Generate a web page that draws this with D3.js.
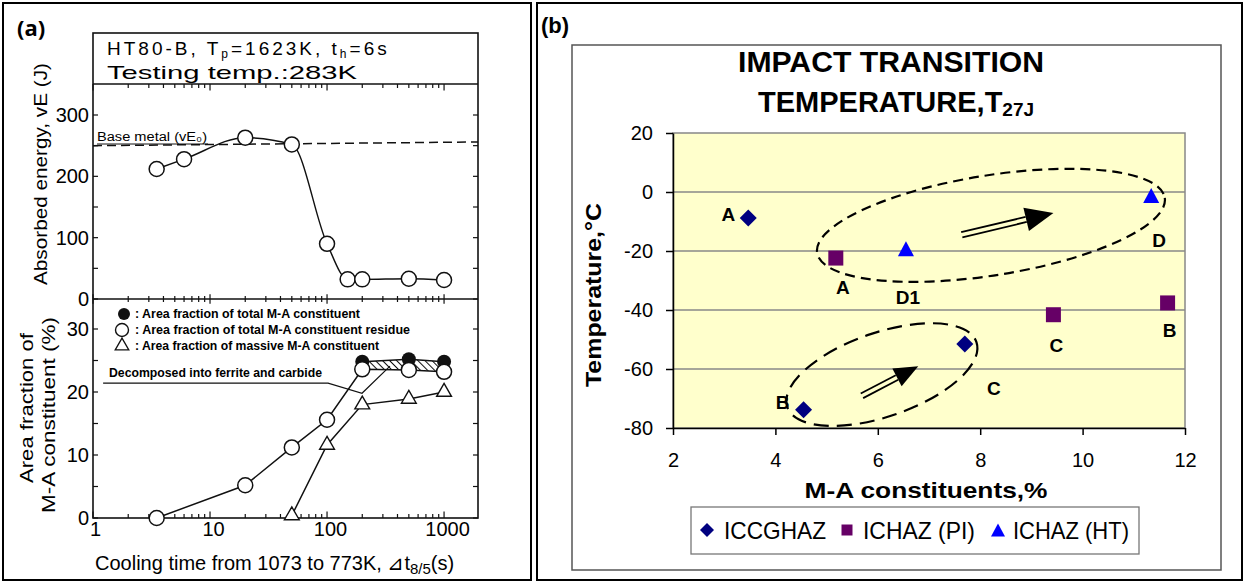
<!DOCTYPE html>
<html><head><meta charset="utf-8">
<script src="https://cdn.jsdelivr.net/npm/d3@7"></script>
<style>body{margin:0;background:#fff;} svg{display:block;}</style>
</head><body><svg id="c" width="1245" height="583"></svg>
<script>
// ---------- Panel (a) data ----------
const coolTimes      = [3.5, 6, 20, 50, 100, 150, 200, 500, 1000];
const absorbedEnergy = [212, 228, 263, 252, 90, 32, 32, 33, 31];
const baseMetalTimes = [1, 1950];
const baseMetalEnergy= [250, 256];
const residueTimes    = [3.5, 20, 50, 100, 200, 500, 1000];
const residueFraction = [0, 5.2, 11.2, 15.6, 23.6, 23.5, 23.2];
const totalTimes      = [200, 500, 1000];
const totalFraction   = [24.8, 25.2, 24.8];
const massiveTimes    = [50, 100, 200, 500, 1000];
const massiveFraction = [0.4, 11.6, 18, 18.9, 20];
const pointerTimes    = [1.22, 102, 199, 345];
const pointerFraction = [21.4, 21.4, 19.8, 24.1];
const energyLabels    = [0, 100, 200, 300];
const energyMinor     = [0, 50, 100, 150, 200, 250, 300];
const fractionLabels  = [0, 10, 20, 30];
const fractionMinor   = [0, 5, 10, 15, 20, 25, 30];
const timeLabels      = [1, 10, 100, 1000];

// ---------- Panel (b) data ----------
const seriesNames   = ["ICCGHAZ", "ICHAZ (PI)", "ICHAZ (HT)"];
const iccghazMA     = [3.47, 4.55, 7.70];
const iccghazT      = [-8.8, -73.8, -51.5];
const iccghazLabels = ["A", "B", "C"];
const pichazMA      = [5.18, 9.43, 11.66];
const pichazT       = [-22.4, -41.6, -37.6];
const pichazLabels  = ["A", "C", "B"];
const htchazMA      = [6.55, 11.34];
const htchazT       = [-19.2, -1.2];
const htchazLabels  = ["D1", "D"];
const maTicks       = [2, 4, 6, 8, 10, 12];
const tempTicks     = [20, 0, -20, -40, -60, -80];
const ellipseMA     = [8.21, 6.08];
const ellipseT      = [-11.3, -61.9];
const arrowFromMA   = [7.64, 5.69];
const arrowFromT    = [-14.5, -69.1];
const arrowToMA     = [9.43, 6.79];
const arrowToT      = [-7.1, -59.1];

const FONT = '"Liberation Sans", Arial, Helvetica, sans-serif';
const svg = d3.select("#c");

function txt(g, s, x, y, opt) {
  opt = opt || {};
  const t = g.append("text").attr("x", x).attr("y", y)
    .attr("font-family", opt.family || FONT)
    .attr("font-size", opt.size || 16)
    .attr("font-weight", opt.weight || "normal")
    .attr("fill", opt.fill || "#000")
    .attr("text-anchor", opt.anchor || "start");
  if (opt.len) t.attr("textLength", opt.len).attr("lengthAdjust", "spacingAndGlyphs");
  if (opt.ls) t.attr("letter-spacing", opt.ls);
  if (opt.rotate) t.attr("transform", `rotate(${opt.rotate},${x},${y})`);
  if (s !== null) t.text(s);
  return t;
}

// ---------- panel frames ----------
svg.append("rect").attr("x", 3).attr("y", 3).attr("width", 528).attr("height", 577)
  .attr("fill", "none").attr("stroke", "#000").attr("stroke-width", 2);
svg.append("rect").attr("x", 537).attr("y", 3).attr("width", 705).attr("height", 577)
  .attr("fill", "none").attr("stroke", "#000").attr("stroke-width", 2);

// =================== PANEL (a) ===================
const gA = svg.append("g");
const xA = d3.scaleLog().domain([1, 1950]).range([93, 478]);
const yE = d3.scaleLinear().domain([0, 300]).range([299, 115]);
const yF = d3.scaleLinear().domain([0, 30]).range([518, 329]);
const L = 93, R = 478, TOPH = 33, DIV = 84, MID = 299, BOT = 518;

txt(gA, "(a)", 17, 36, {size: 22, weight: "bold", family: '"Open Sans", "Liberation Sans", sans-serif'});

// frame
gA.append("rect").attr("x", L).attr("y", TOPH).attr("width", R - L).attr("height", BOT - TOPH)
  .attr("fill", "none").attr("stroke", "#111").attr("stroke-width", 1.6);
[DIV, MID].forEach(y => gA.append("line").attr("x1", L).attr("x2", R).attr("y1", y).attr("y2", y)
  .attr("stroke", "#111").attr("stroke-width", 1.6));

// header texts
const h1 = txt(gA, null, 107, 55, {size: 19, ls: 3});
h1.append("tspan").text("HT80-B, T");
h1.append("tspan").attr("font-size", 12).attr("dy", 3).text("p");
h1.append("tspan").attr("dy", -3).text("=1623K, t");
h1.append("tspan").attr("font-size", 12).attr("dy", 3).text("h");
h1.append("tspan").attr("dy", -3).text("=6s");
txt(gA, "Testing temp.:283K", 107, 79, {size: 18.5, len: 250});

// log x ticks
const allT = xA.ticks().filter(v => v <= 1950);
const isMajor = v => timeLabels.includes(v);
function xTickLines(y, up, down) {
  gA.append("g").selectAll("line").data(allT).join("line")
    .attr("x1", d => xA(d)).attr("x2", d => xA(d))
    .attr("y1", d => y - (isMajor(d) ? up * 1.6 : up))
    .attr("y2", d => y + (isMajor(d) ? down * 1.6 : down))
    .attr("stroke", "#111").attr("stroke-width", 1.2);
}
xTickLines(DIV, 0, 4);
xTickLines(MID, 3, 3);
xTickLines(BOT, 4, 0);

// x tick labels via axis
const xAxisA = gA.append("g").attr("transform", `translate(0,${BOT})`)
  .call(d3.axisBottom(xA).tickValues(timeLabels).tickSize(0).tickPadding(4).tickFormat(d3.format("d")));
xAxisA.select(".domain").remove();
xAxisA.selectAll("text").attr("font-family", FONT).attr("font-size", 20).attr("fill", "#000")
  .attr("dx", d => d === 1 ? 2 : 3);

// y ticks inward on both sides
function yTicks(scale, vals, x, dir) {
  gA.append("g").selectAll("line").data(vals).join("line")
    .attr("x1", x).attr("x2", x + dir * 5)
    .attr("y1", d => scale(d)).attr("y2", d => scale(d))
    .attr("stroke", "#111").attr("stroke-width", 1.2);
}
yTicks(yE, energyMinor, L, 1); yTicks(yE, energyMinor, R, -1);
yTicks(yF, fractionMinor, L, 1); yTicks(yF, fractionMinor, R, -1);

const yEl = gA.append("g").attr("transform", `translate(${L},0)`)
  .call(d3.axisLeft(yE).tickValues(energyLabels).tickSize(0).tickPadding(4));
yEl.select(".domain").remove();
yEl.selectAll("text").attr("font-family", FONT).attr("font-size", 20).attr("fill", "#000");
const yFl = gA.append("g").attr("transform", `translate(${L},0)`)
  .call(d3.axisLeft(yF).tickValues(fractionLabels).tickSize(0).tickPadding(4));
yFl.select(".domain").remove();
yFl.selectAll("text").attr("font-family", FONT).attr("font-size", 20).attr("fill", "#000");

// axis titles
txt(gA, "Absorbed energy, vE (J)", 47, 174, {size: 19, anchor: "middle", rotate: -90, len: 222});
txt(gA, "Area fraction of", 33, 408, {size: 19, anchor: "middle", rotate: -90, len: 150});
txt(gA, "M-A constituent (%)", 55, 415, {size: 19, anchor: "middle", rotate: -90, len: 196});
const xt = txt(gA, null, 95, 570, {size: 20});
xt.append("tspan").text("Cooling time from 1073 to 773K, \u22BFt");
xt.append("tspan").attr("font-size", 15).attr("dy", 4).text("8/5");
xt.append("tspan").attr("dy", -4).text("(s)");

// base metal dashed line
gA.append("path")
  .attr("d", d3.line().x((d, i) => xA(baseMetalTimes[i])).y(d => yE(d))(baseMetalEnergy))
  .attr("fill", "none").attr("stroke", "#111").attr("stroke-width", 1.5).attr("stroke-dasharray", "9,5");
txt(gA, "Base metal (vE\u2080)", 97, 141, {size: 12.5, len: 110});
gA.append("line").attr("x1", 97).attr("x2", 208).attr("y1", 144).attr("y2", 144).attr("stroke", "#111").attr("stroke-width", 1);

// absorbed energy curve
const ptsE = coolTimes.map((t, i) => [xA(t), yE(absorbedEnergy[i])]);
gA.append("path").attr("d", d3.line().curve(d3.curveMonotoneX)(ptsE))
  .attr("fill", "none").attr("stroke", "#111").attr("stroke-width", 1.4);
gA.append("g").selectAll("circle").data(ptsE).join("circle")
  .attr("cx", d => d[0]).attr("cy", d => d[1]).attr("r", 7.5)
  .attr("fill", "#fff").attr("stroke", "#111").attr("stroke-width", 1.5);

// hatched band between total and residue lines
const defs = svg.append("defs");
const pat = defs.append("pattern").attr("id", "hatch").attr("patternUnits", "userSpaceOnUse")
  .attr("width", 5).attr("height", 5).attr("patternTransform", "rotate(-45)");
pat.append("rect").attr("width", 5).attr("height", 5).attr("fill", "#fff");
pat.append("line").attr("x1", 0).attr("y1", 0).attr("x2", 0).attr("y2", 5).attr("stroke", "#111").attr("stroke-width", 2);
const bandTop = totalTimes.map((t, i) => [xA(t), yF(totalFraction[i]), yF(residueFraction[residueTimes.indexOf(t)])]);
gA.append("path").attr("d", d3.area().x(d => d[0]).y0(d => d[2]).y1(d => d[1])(bandTop))
  .attr("fill", "url(#hatch)").attr("stroke", "none");

// lines bottom
const ptsR = residueTimes.map((t, i) => [xA(t), yF(residueFraction[i])]);
const ptsT = totalTimes.map((t, i) => [xA(t), yF(totalFraction[i])]);
const ptsM = massiveTimes.map((t, i) => [xA(t), yF(massiveFraction[i])]);
const ptsP = pointerTimes.map((t, i) => [xA(t), yF(pointerFraction[i])]);
[ptsT, ptsR, ptsM].forEach(p => gA.append("path").attr("d", d3.line()(p))
  .attr("fill", "none").attr("stroke", "#111").attr("stroke-width", 1.5));
gA.append("path").attr("d", d3.line()(ptsP)).attr("fill", "none").attr("stroke", "#111").attr("stroke-width", 1.2);

gA.append("g").selectAll("circle").data(ptsT).join("circle")
  .attr("cx", d => d[0]).attr("cy", d => d[1]).attr("r", 7).attr("fill", "#111");
gA.append("g").selectAll("circle").data(ptsR).join("circle")
  .attr("cx", d => d[0]).attr("cy", d => d[1]).attr("r", 7.5)
  .attr("fill", "#fff").attr("stroke", "#111").attr("stroke-width", 1.5);
const triA = d3.symbol(d3.symbolTriangle, 95);
gA.append("g").selectAll("path").data(ptsM).join("path")
  .attr("transform", d => `translate(${d[0]},${d[1]})`).attr("d", triA())
  .attr("fill", "#fff").attr("stroke", "#111").attr("stroke-width", 1.4);

// legend in bottom plot
gA.append("circle").attr("cx", 124).attr("cy", 314).attr("r", 6).attr("fill", "#111");
gA.append("circle").attr("cx", 122).attr("cy", 330).attr("r", 6.5).attr("fill", "#fff").attr("stroke", "#111").attr("stroke-width", 1.4);
gA.append("path").attr("transform", "translate(122,346)").attr("d", d3.symbol(d3.symbolTriangle, 80)())
  .attr("fill", "#fff").attr("stroke", "#111").attr("stroke-width", 1.3);
txt(gA, ": Area fraction of total M-A constituent", 135, 318, {size: 12, weight: "bold", len: 225});
txt(gA, ": Area fraction of total M-A constituent residue", 135, 334, {size: 12, weight: "bold", len: 275});
txt(gA, ": Area fraction of massive M-A constituent", 135, 350, {size: 12, weight: "bold", len: 244});
txt(gA, "Decomposed into ferrite and carbide", 109, 377, {size: 12.5, weight: "bold", len: 213});

// =================== PANEL (b) ===================
const gB = svg.append("g");
const xB = d3.scaleLinear().domain([2, 12]).range([673, 1185]);
const yB = d3.scaleLinear().domain([-80, 20]).range([428, 133]);

txt(gB, "(b)", 541, 33, {size: 22, weight: "bold"});
// chart area frame
gB.append("rect").attr("x", 572).attr("y", 45).attr("width", 649).attr("height", 525)
  .attr("fill", "#fff").attr("stroke", "#555").attr("stroke-width", 1.5);

// title
txt(gB, "IMPACT TRANSITION", 891, 72, {size: 29, weight: "bold", anchor: "middle", len: 306});
const t2 = txt(gB, null, 758, 112, {size: 29, weight: "bold"});
t2.append("tspan").text("TEMPERATURE,T");
t2.append("tspan").attr("font-size", 19).attr("dy", 4).text("27J");

// plot area
gB.append("rect").attr("x", xB(2)).attr("y", yB(20)).attr("width", xB(12) - xB(2)).attr("height", yB(-80) - yB(20))
  .attr("fill", "#FFFFCC").attr("stroke", "#888").attr("stroke-width", 1.5);
gB.append("g").selectAll("line").data(tempTicks.filter(v => v > -80 && v < 20)).join("line")
  .attr("x1", xB(2)).attr("x2", xB(12)).attr("y1", d => yB(d)).attr("y2", d => yB(d))
  .attr("stroke", "#888").attr("stroke-width", 1.5);

const yAx = gB.append("g").attr("transform", `translate(${xB(2)},0)`)
  .call(d3.axisLeft(yB).tickValues(tempTicks).tickSize(7).tickPadding(13).tickSizeOuter(0).tickFormat(d => String(d)));
const xAx = gB.append("g").attr("transform", `translate(0,${yB(-80)})`)
  .call(d3.axisBottom(xB).tickValues(maTicks).tickSize(7).tickPadding(18).tickSizeOuter(0).tickFormat(d => String(d)));
[yAx, xAx].forEach(a => {
  a.select(".domain").attr("stroke", "#000").attr("stroke-width", 1.5);
  a.selectAll("line").attr("stroke", "#000").attr("stroke-width", 1.5);
  a.selectAll("text").attr("font-family", FONT).attr("font-size", 20).attr("fill", "#000");
});

txt(gB, "Temperature,\u00B0C", 601, 295, {size: 22, weight: "bold", anchor: "middle", rotate: -90, len: 184});
txt(gB, "M-A constituents,%", 926, 498, {size: 22, weight: "bold", anchor: "middle", len: 243});

// ellipses
const ellA = [176, 100], ellB = [50, 42], ellRot = [-9, -19], ellDash = ["10,6", "15,8"];
ellipseMA.forEach((m, i) => {
  const cx = xB(m), cy = yB(ellipseT[i]);
  gB.append("ellipse").attr("cx", cx).attr("cy", cy).attr("rx", ellA[i]).attr("ry", ellB[i])
    .attr("transform", `rotate(${ellRot[i]},${cx},${cy})`)
    .attr("fill", "none").attr("stroke", "#000").attr("stroke-width", 2.2).attr("stroke-dasharray", ellDash[i]);
});

// double arrows
const headLen = [28, 24], headHalf = [12, 10];
arrowFromMA.forEach((m, i) => {
  const x0 = xB(m), y0 = yB(arrowFromT[i]), x1 = xB(arrowToMA[i]), y1 = yB(arrowToT[i]);
  const dx = x1 - x0, dy = y1 - y0, len = Math.hypot(dx, dy), ux = dx / len, uy = dy / len;
  const nx = -uy, ny = ux;
  const bx = x1 - ux * headLen[i], by = y1 - uy * headLen[i];
  [-2.6, 2.6].forEach(o => gB.append("line")
    .attr("x1", x0 + nx * o).attr("y1", y0 + ny * o).attr("x2", bx + nx * o).attr("y2", by + ny * o)
    .attr("stroke", "#000").attr("stroke-width", 1.8));
  gB.append("path").attr("d", `M${x1},${y1}L${bx + nx * headHalf[i]},${by + ny * headHalf[i]}L${bx - nx * headHalf[i]},${by - ny * headHalf[i]}Z`)
    .attr("fill", "#000");
});

// markers
const diamond = s => `M0,${-s}L${s},0L0,${s}L${-s},0Z`;
const square = s => `M${-s},${-s}H${s}V${s}H${-s}Z`;
const tri = (w, h) => `M0,${-h}L${w},${h}L${-w},${h}Z`;
const series = [
  {x: iccghazMA, y: iccghazT, lab: iccghazLabels, color: "#000080", path: diamond(8.5),
   off: [[-20, 3], [-21, -1], [29, 51]]},
  {x: pichazMA, y: pichazT, lab: pichazLabels, color: "#660066", path: square(7.5),
   off: [[7, 36], [3, 37], [2, 34]]},
  {x: htchazMA, y: htchazT, lab: htchazLabels, color: "#0000FF", path: tri(8, 7.5),
   off: [[2, 55], [8, 51]]}
];
series.forEach(s => {
  const pts = s.x.map((v, i) => [xB(v), yB(s.y[i])]);
  gB.append("g").selectAll("path").data(pts).join("path")
    .attr("transform", d => `translate(${d[0]},${d[1]})`).attr("d", s.path).attr("fill", s.color);
  gB.append("g").selectAll("text").data(pts).join("text")
    .attr("x", (d, i) => d[0] + s.off[i][0]).attr("y", (d, i) => d[1] + s.off[i][1])
    .attr("text-anchor", "middle").attr("font-family", FONT).attr("font-size", 19).attr("font-weight", "bold")
    .text((d, i) => s.lab[i]);
});

// legend
gB.append("rect").attr("x", 691).attr("y", 507).attr("width", 448).attr("height", 47)
  .attr("fill", "#fff").attr("stroke", "#777").attr("stroke-width", 1.3);
const legX = [707, 847, 998], legTx = [724, 863, 1013], legLen = [102, 112, 116];
const legPath = [diamond(7), square(5.5), tri(7, 6.5)];
seriesNames.forEach((n, i) => {
  gB.append("path").attr("transform", `translate(${legX[i]},530)`).attr("d", legPath[i]).attr("fill", series[i].color);
  txt(gB, n, legTx[i], 539, {size: 24, len: legLen[i]});
});
</script></body></html>
